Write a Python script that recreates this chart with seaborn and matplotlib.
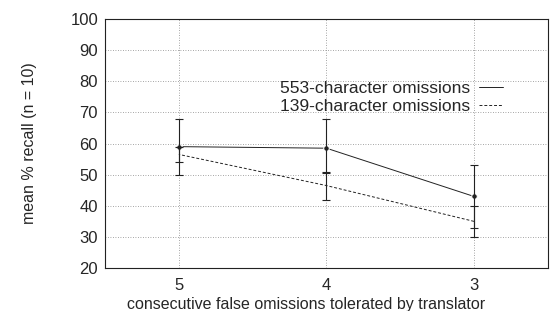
import matplotlib
matplotlib.use("Agg")
import matplotlib.pyplot as plt
import seaborn as sns
import pandas as pd
from matplotlib.lines import Line2D

# ── Data ────────────────────────────────────
tolerated   = [5, 4, 3]
mean_553    = [59.0, 58.5, 43.0]
low_553     = [50.0, 50.5, 33.0]
high_553    = [68.0, 68.0, 53.0]
mean_139    = [56.5, 46.5, 35.0]
low_139     = [54.0, 42.0, 30.0]
high_139    = [59.0, 51.0, 40.0]
y_ticks     = [20, 30, 40, 50, 60, 70, 80, 90, 100]
labels      = ["553-character omissions", "139-character omissions"]

df_553 = pd.DataFrame({"tolerated": tolerated, "recall": mean_553})
df_139 = pd.DataFrame({"tolerated": tolerated, "recall": mean_139})

sns.set_style("white")
plt.rcParams["font.family"] = ["Liberation Sans", "DejaVu Sans"]

fig = plt.figure(figsize=(5.5, 3.11), dpi=100)
ax = fig.add_axes([0.191, 0.138, 0.805, 0.801])

# ── Grid ──────────────────────────────────
for yt in y_ticks[1:-1]:
    ax.axhline(yt, color="#888888", lw=0.6, ls=(0, (1, 2)), zorder=0)
for xt in tolerated:
    ax.axvline(xt, color="#888888", lw=0.6, ls=(0, (1, 2)), zorder=0)

# ── Lines ─────────────────────────────────
sns.lineplot(data=df_553, x="tolerated", y="recall", color="#222222",
             lw=0.7, marker="o", markersize=4, ax=ax)
sns.lineplot(data=df_139, x="tolerated", y="recall", color="#222222",
             lw=0.7, ls=(0, (3, 2)), ax=ax)

# ── Error bars ────────────────────────────
for m, lo, hi in [(mean_553, low_553, high_553), (mean_139, low_139, high_139)]:
    ax.errorbar(
        tolerated, m,
        yerr=[[a - b for a, b in zip(m, lo)], [c - a for a, c in zip(m, hi)]],
        fmt="none", ecolor="#222222", elinewidth=0.8, capsize=3, capthick=0.8,
    )

# legend, gnuplot style: text then line sample
handles = [
    Line2D([], [], color="#222222", lw=0.7),
    Line2D([], [], color="#222222", lw=0.7, ls=(0, (3, 2))),
]
ax.legend(
    handles, labels,
    loc="upper right", bbox_to_anchor=(0.915, 0.78),
    markerfirst=False, frameon=False, fontsize=12.5,
    handlelength=1.4, handletextpad=0.5,
    labelspacing=0.15, borderaxespad=0,
)

ax.set_xlim(5.5, 2.5)
ax.set_ylim(20, 100)
ax.set_xticks(tolerated)
ax.set_yticks(y_ticks)
ax.tick_params(axis="both", labelsize=12, length=4, direction="in",
               color="#222222", pad=5)
ax.tick_params(axis="x", pad=7)
ax.set_xlabel("consecutive false omissions tolerated by translator",
              fontsize=11.5)
ax.xaxis.set_label_coords(0.455, -0.115)
ax.set_ylabel("mean % recall (n = 10)", fontsize=11.5, labelpad=24)

for s in ax.spines.values():
    s.set_color("#222222")
    s.set_linewidth(0.8)

fig.savefig("out.png", dpi=100)
